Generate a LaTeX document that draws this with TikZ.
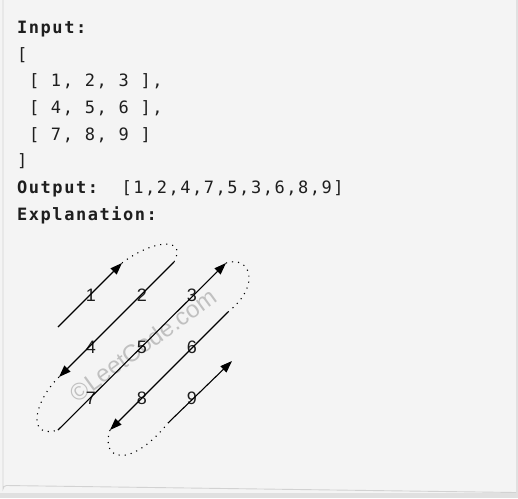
\documentclass[tikz,border=0pt]{standalone}
\usepackage{fontspec}
\setmainfont{Liberation Sans}
\newfontfamily\codefont[LetterSpace=9]{DejaVu Sans Mono}
\usetikzlibrary{arrows.meta}
\definecolor{panel}{HTML}{F4F4F4}
\definecolor{outer}{HTML}{E0E0E0}
\definecolor{edge}{HTML}{D2D2D2}
\definecolor{mark}{HTML}{C0C0C0}
\definecolor{ink}{HTML}{1E1E1E}
\begin{document}
\begin{tikzpicture}[x=1pt,y=-1pt,
  code/.style={anchor=base west, inner sep=0pt, font=\codefont\fontsize{17}{17}\selectfont, text=ink},
  num/.style={inner sep=0pt, font=\fontsize{18}{18}\selectfont, text=ink},
  diag/.style={line width=1.1pt, draw=black, -{Triangle[length=12pt,width=8.5pt]}},
  looppath/.style={line width=1.1pt, draw=black, dash pattern=on 1.1pt off 5pt}]
\useasboundingbox (0,0) rectangle (518,498);
% panel
\fill[panel] (0,0) rectangle (518,498);
\fill[outer] (0,493) rectangle (518,498);
\fill[outer] (516,0) rectangle (518,498);
\draw[edge, line width=0.9pt] (3,-2) -- (3,489) arc[start angle=180, end angle=270, radius=3.5] -- (516,492.5);
% text
\node[code] (l1) at (17,33) {\bfseries Input:};
\node[code] (l2) at (17,60) {[};
\node[code] (l3) at (17,86.6) {\hspace*{11.8pt}[ 1, 2, 3 ],};
\node[code] (l4) at (17,113) {\hspace*{11.8pt}[ 4, 5, 6 ],};
\node[code] (l5) at (17,140) {\hspace*{11.8pt}[ 7, 8, 9 ]};
\node[code] (l6) at (17,166.5) {]};
\node[code] (l7) at (17,193) {{\bfseries Output:}\hspace*{23.6pt}[1,2,4,7,5,3,6,8,9]};
\node[code] (l8) at (17,220) {\bfseries Explanation:};
% watermark
\node[rotate=36, inner sep=0pt, text=mark, font=\fontsize{24}{24}\selectfont] (wm) at (143,345) {©LeetCode.com};
% numbers
\node[num] (n1) at (91,295) {1};
\node[num] (n2) at (142,295) {2};
\node[num] (n3) at (192,295) {3};
\node[num] (n4) at (91,347) {4};
\node[num] (n5) at (142,347) {5};
\node[num] (n6) at (192,347) {6};
\node[num] (n7) at (91,398) {7};
\node[num] (n8) at (142,398) {8};
\node[num] (n9) at (192,398) {9};
% path points
\coordinate (a0) at (58,327);
\coordinate (a1) at (122,263);
\coordinate (b0) at (174,262);
\coordinate (b1) at (59,377);
\coordinate (c0) at (58,430);
\coordinate (c1) at (226,263);
\coordinate (d0) at (228,312);
\coordinate (d1) at (110,430);
\coordinate (e0) at (168,423);
\coordinate (e1) at (232,361);
% straight runs
\draw[diag] (a0) -- (a1);
\draw[diag] (b0) -- (b1);
\draw[diag] (c0) -- (c1);
\draw[diag] (d0) -- (d1);
\draw[diag] (e0) -- (e1);
% dotted turns
\draw[looppath] (a1) .. controls (152,240) and (188,236) .. (b0);
\draw[looppath] (b1) .. controls (35,400) and (25,440) .. (c0);
\draw[looppath] (c1) .. controls (250,255) and (262,285) .. (d0);
\draw[looppath] (d1) .. controls (100,460) and (130,470) .. (e0);
\end{tikzpicture}
\end{document}
